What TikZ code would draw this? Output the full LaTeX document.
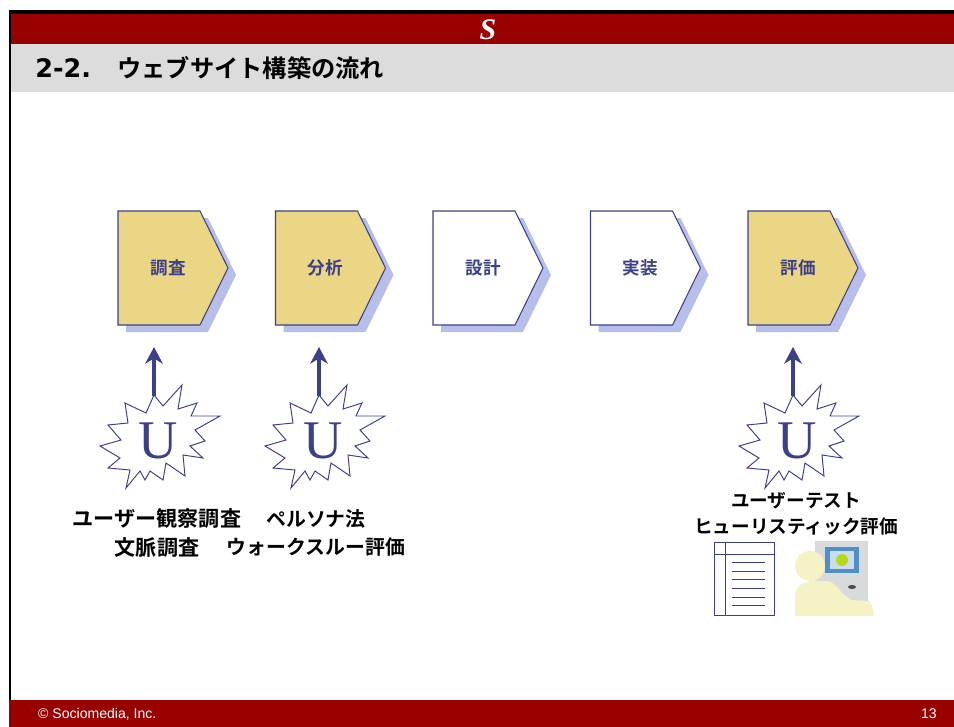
\documentclass[tikz,border=0pt]{standalone}
\usepackage{fontspec}
\newfontfamily\jpfont{Noto Sans CJK JP}[BoldFont={Noto Sans CJK JP Bold}]
\newfontfamily\ufont{Liberation Serif}
\newfontfamily\footfont{Liberation Sans}
\newfontfamily\numfont{DejaVu Sans}
\usetikzlibrary{positioning,arrows.meta,calc}

\definecolor{hdrred}{HTML}{990000}
\definecolor{bandgray}{HTML}{DCDCDC}
\definecolor{boxyellow}{HTML}{EBD685}
\definecolor{boxshadow}{HTML}{B7BEEA}
\definecolor{navy}{HTML}{3C4089}
\definecolor{skin}{HTML}{F5F2C6}
\definecolor{monitorgray}{HTML}{D9DADC}
\definecolor{screenblue}{HTML}{4F8FC6}

\begin{document}
\begin{tikzpicture}[
    x=0.02cm, y=-0.02cm,
    stepbox/.style={draw=navy, line width=0.6pt, line join=miter},
    shadowbox/.style={fill=boxshadow},
    steplabel/.style={font=\jpfont\bfseries\fontsize{10}{12}\selectfont, text=navy},
    burst/.style={draw=navy, fill=white, line width=0.55pt, line join=miter},
    ulabel/.style={font=\ufont\fontsize{31}{31}\selectfont, text=navy, inner sep=0pt},
    method/.style={font=\jpfont\bfseries\fontsize{#1}{16}\selectfont, align=center},
    method/.default=12,
    uparrow/.style={-{Stealth[length=9.5pt, width=10pt, inset=3pt]}, line width=1.8pt, draw=navy}
]
\useasboundingbox (0,0) rectangle (954,727);

% Header, title band and footer
\fill[black] (9,10) rectangle (954,14);
\fill[black] (9,10) rectangle (11,700);
\fill[hdrred] (11,14) rectangle (954,44);
\fill[bandgray] (11,44) rectangle (954,92);
\fill[hdrred] (9,700) rectangle (954,727);
\node[text=white, font=\ufont\bfseries\itshape\fontsize{17}{17}\selectfont] (logo) at (488,30) {S};
\node[anchor=west, inner sep=0pt, font=\numfont\bfseries\fontsize{14.5}{16}\selectfont] (titlenum) at (35,68) {2-2.};
\node[anchor=west, inner sep=0pt, font=\jpfont\bfseries\fontsize{13.8}{16}\selectfont] (title) at (117,68) {ウェブサイト構築の流れ};
\node[anchor=west, text=white, font=\footfont\fontsize{8}{10}\selectfont] (copy) at (32,714) {© Sociomedia, Inc.};
\node[anchor=east, text=white, font=\footfont\fontsize{8}{10}\selectfont] (page) at (943,714) {13};

% Steps
\foreach \i/\lbl/\col in {1/調査/boxyellow, 2/分析/boxyellow, 3/設計/white, 4/実装/white, 5/評価/boxyellow} {
  \pgfmathsetmacro\bx{118+157.5*(\i-1)}
  \fill[shadowbox] (\bx+8,218) -- ++(82,0) -- ++(28,57) -- ++(-28,57) -- ++(-82,0) -- cycle;
  \filldraw[stepbox, fill=\col] (\bx,211) -- ++(82,0) -- ++(28,57) -- ++(-28,57) -- ++(-82,0) -- cycle;
  \node[steplabel] (step\i) at (\bx+50,268) {\lbl};
}
\coordinate (boxfoot) at (0,347);

% User involvement
\foreach \n/\cx in {1/158, 2/323, 3/797} {
  \begin{scope}[shift={(\cx,443)}]
    \draw[burst] (-4,-48) -- (5,-37) -- (24,-58) -- (20,-34) -- (39,-40) -- (33,-27)
      -- (62,-27) -- (37,-13) -- (47,-2) -- (32,3) -- (45,15) -- (25,12) -- (27,33)
      -- (8,20) -- (5,37) -- (-8,28) -- (-13,37) -- (-18,28) -- (-32,45) -- (-28,27)
      -- (-50,25) -- (-38,15) -- (-58,3) -- (-37,-3) -- (-50,-18) -- (-30,-20)
      -- (-33,-40) -- (-12,-30) -- cycle;
  \end{scope}
  \node[ulabel] (u\n) at (\cx,441) {U};
  \coordinate (ubase\n) at (\cx-4,396);
  \draw[uparrow] (ubase\n) -- (ubase\n |- boxfoot);
}

% Methods
\node[method] (m1) at (157,533) {ユーザー観察調査\\文脈調査};
\node[method=11.3] (m2) at (316,533) {ペルソナ法\\ウォークスルー評価};
\node[method=10.6, font=\jpfont\bfseries\fontsize{10.6}{15}\selectfont] (m3) at (796,514) {ユーザーテスト\\ヒューリスティック評価};

% Checklist icon
\draw[navy, line width=0.5pt] (714,542) rectangle (774,615);
\draw[navy, line width=0.5pt] (725,542) -- (725,615);
\draw[navy, line width=0.5pt] (714,554) -- (774,554);
\foreach \ly in {562,571,579,588,597,605}
  \draw[navy, line width=0.5pt] (732,\ly) -- (765,\ly);

% User at a terminal
\fill[monitorgray] (815,541) rectangle (868,602);
\fill[screenblue] (825,547) rectangle (859,573);
\fill[white!70!screenblue] (830,551) rectangle (854,569);
\fill[yellow!70!green] (842,560) circle (6);
\fill[black!70] (852,587) ellipse (4 and 2);
\fill[skin] (810,566) circle (15);
\fill[skin] (795,616) -- (795,597) .. controls (795,586) and (803,581) .. (815,581)
  -- (826,581) .. controls (834,581) and (838,588) .. (843,594)
  -- (851,600) -- (870,601) -- (874,612) -- (874,616) -- cycle;
\end{tikzpicture}
\end{document}
